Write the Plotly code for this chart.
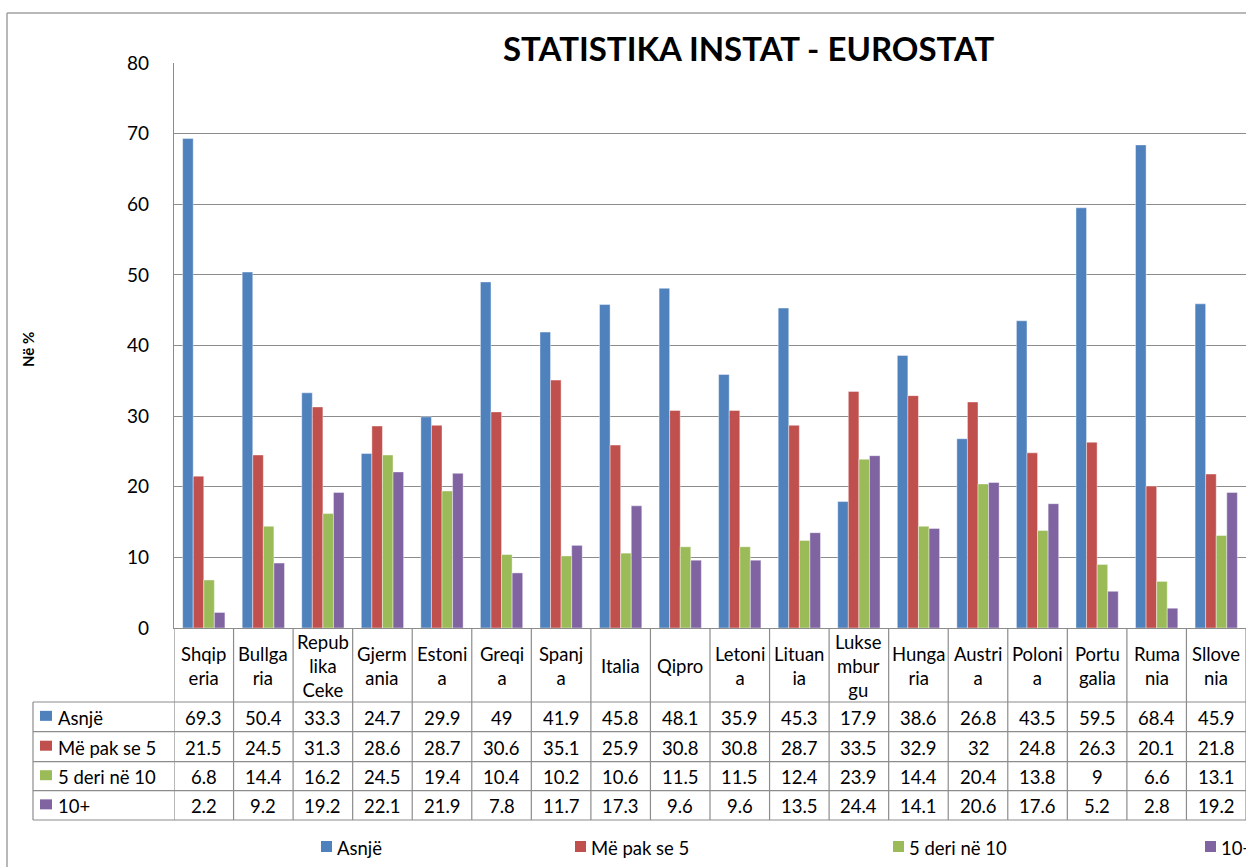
import plotly.graph_objects as go

# vendi (etiketat ashtu si ndahen ne tabele)
vendet = ['Shqip<br>eria', 'Bullga<br>ria', 'Repub<br>lika<br>Ceke', 'Gjerm<br>ania', 'Estoni<br>a',
          'Greqi<br>a', 'Spanj<br>a', 'Italia', 'Qipro', 'Letoni<br>a', 'Lituan<br>ia',
          'Lukse<br>mbur<br>gu', 'Hunga<br>ria', 'Austri<br>a', 'Poloni<br>a', 'Portu<br>galia',
          'Ruma<br>nia', 'Sllove<br>nia']

asnje = [69.3, 50.4, 33.3, 24.7, 29.9, 49, 41.9, 45.8, 48.1, 35.9, 45.3, 17.9, 38.6, 26.8, 43.5, 59.5, 68.4, 45.9]
me_pak_se_5 = [21.5, 24.5, 31.3, 28.6, 28.7, 30.6, 35.1, 25.9, 30.8, 30.8, 28.7, 33.5, 32.9, 32, 24.8, 26.3, 20.1, 21.8]
nga_5_ne_10 = [6.8, 14.4, 16.2, 24.5, 19.4, 10.4, 10.2, 10.6, 11.5, 11.5, 12.4, 23.9, 14.4, 20.4, 13.8, 9, 6.6, 13.1]
mbi_10 = [2.2, 9.2, 19.2, 22.1, 21.9, 7.8, 11.7, 17.3, 9.6, 9.6, 13.5, 24.4, 14.1, 20.6, 17.6, 5.2, 2.8, 19.2]

emrat = ['Asnjë', 'Më pak se 5', '5 deri në 10', '10+']
seri = [asnje, me_pak_se_5, nga_5_ne_10, mbi_10]
ngjyrat = ['#4F81BD', '#C0504D', '#9BBB59', '#8064A2']

W, H = 1246, 867
L, T, B = 174, 63, 628  # plot area in pixels
FONT = 'Lato, Calibri, sans-serif'
GRIS = '#8C8C8C'
FS = 18.5


def px(p):
    return (p - L) / (W - L)


def py(p):
    return (B - p) / (B - T)


fig = go.Figure()
x = list(range(len(vendet)))
for emri, vlerat, ngjyra in zip(emrat, seri, ngjyrat):
    fig.add_trace(go.Bar(
        x=x, y=vlerat, name=emri,
        marker=dict(color=ngjyra, line=dict(width=0.6, color='rgba(255,255,255,0.7)')),
        showlegend=False
    ))

shapes = []
annotations = []


def tekst(xv, yv, t, xref='paper', size=FS, xa='center', **kw):
    annotations.append(dict(xref=xref, yref='paper', x=xv, y=yv, text=t, showarrow=False,
                            xanchor=xa, yanchor='middle', align='center',
                            font=dict(size=size, color='black', family=FONT), **kw))


# korniza e jashtme
shapes.append(dict(type='line', xref='paper', yref='paper', x0=px(7), x1=px(7), y0=py(13), y1=py(H + 5),
                   line=dict(color='#A0A0A0', width=1.5)))
shapes.append(dict(type='line', xref='paper', yref='paper', x0=px(7), x1=px(W + 5), y0=py(13), y1=py(13),
                   line=dict(color='#A0A0A0', width=1.5)))

# tabela e te dhenave
rreshtat = [702, 731.7, 761.7, 790.7, 820]
for i in range(len(vendet) + 1):
    shapes.append(dict(type='line', xref='x', yref='paper', x0=i - 0.5, x1=i - 0.5, y0=py(B), y1=py(820),
                       line=dict(color=GRIS, width=1.2)))
shapes.append(dict(type='line', xref='paper', yref='paper', x0=px(33), x1=px(33), y0=py(702), y1=py(820),
                   line=dict(color=GRIS, width=1.2)))
for r in rreshtat:
    shapes.append(dict(type='line', xref='paper', yref='paper', x0=px(33), x1=1, y0=py(r), y1=py(r),
                       line=dict(color=GRIS, width=1.2)))

for i, v in enumerate(vendet):
    tekst(i, py(666), v, xref='x')

for k, (emri, vlerat, ngjyra) in enumerate(zip(emrat, seri, ngjyrat)):
    yc = (rreshtat[k] + rreshtat[k + 1]) / 2
    shapes.append(dict(type='rect', xref='paper', yref='paper', x0=px(40), x1=px(52), y0=py(yc - 6), y1=py(yc + 4),
                       fillcolor=ngjyra, line=dict(width=0)))
    tekst(px(56), py(yc + 1), emri, xa='left')
    for i, v in enumerate(vlerat):
        tekst(i, py(yc + 1), f'{v:g}', xref='x')

# legjenda poshte
leg_x = [321, 575, 893, 1205]
for lx, emri, ngjyra in zip(leg_x, emrat, ngjyrat):
    shapes.append(dict(type='rect', xref='paper', yref='paper', x0=px(lx), x1=px(lx + 11), y0=py(852), y1=py(841),
                       fillcolor=ngjyra, line=dict(width=0)))
    tekst(px(lx + 14), py(848), emri, xa='left')

# titulli dhe boshti
tekst(px(749), py(48), '<b>STATISTIKA INSTAT - EUROSTAT</b>', size=33)
tekst(px(28), py(350), '<b>Në %</b>', size=15, textangle=-90)

fig.update_layout(
    width=W, height=H,
    margin=dict(l=L, r=0, t=T, b=H - B, pad=0),
    paper_bgcolor='white', plot_bgcolor='white',
    barmode='group', bargap=0.29, bargroupgap=0,
    shapes=shapes, annotations=annotations,
    font=dict(family=FONT, color='black'),
    xaxis=dict(range=[-0.5, len(vendet) - 0.5], showticklabels=False, showgrid=False, zeroline=False,
               showline=True, linecolor=GRIS, linewidth=1.2, fixedrange=True),
    yaxis=dict(range=[0, 80], dtick=10, showgrid=True, gridcolor=GRIS, gridwidth=1.2, zeroline=False,
               showline=True, linecolor=GRIS, linewidth=1.2, ticks='', ticklabelstandoff=20,
               tickfont=dict(size=19, color='black', family=FONT)),
)

fig.write_html('out.html', config={'displayModeBar': False},
               post_script="document.body.style.margin='0';document.body.style.overflow='hidden';")
